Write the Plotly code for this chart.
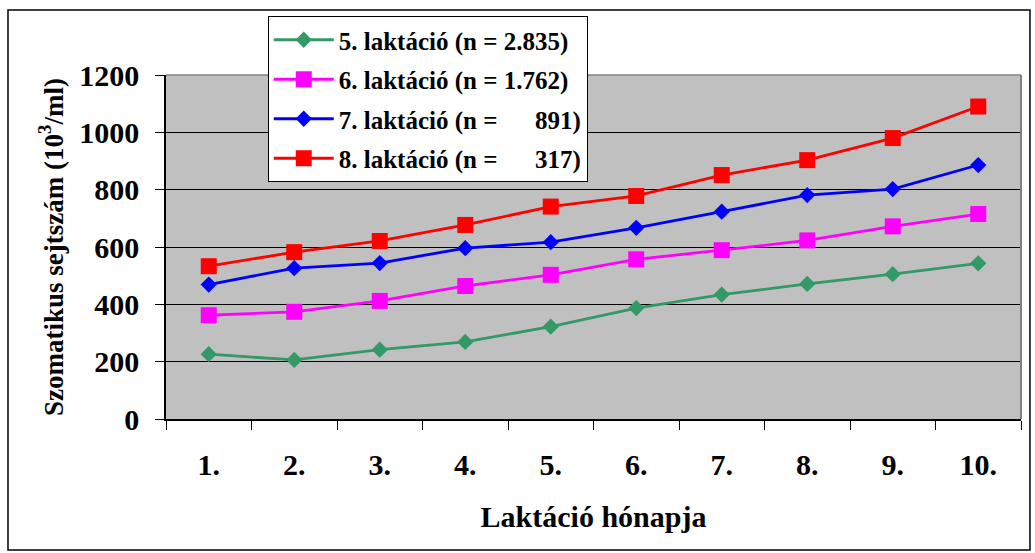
import plotly.graph_objects as go

# Months of lactation (category axis)
months = ["1.", "2.", "3.", "4.", "5.", "6.", "7.", "8.", "9.", "10."]

# Somatic cell count (10^3/ml) by lactation number
lact5 = [226, 206, 242, 269, 322, 387, 434, 471, 505, 543]
lact6 = [362, 374, 412, 464, 503, 557, 589, 623, 672, 715]
lact7 = [469, 526, 544, 596, 617, 667, 723, 781, 802, 886]
lact8 = [533, 582, 621, 677, 741, 778, 851, 903, 980, 1090]

series_names = [
    "5. laktáció (n = 2.835)",
    "6. laktáció (n = 1.762)",
    "7. laktáció (n = \u2007\u2008\u2007891)",
    "8. laktáció (n = \u2007\u2008\u2007317)",
]
series_values = [lact5, lact6, lact7, lact8]
series_colors = ["#339966", "#FF00FF", "#0000FF", "#FF0000"]
series_symbols = ["diamond", "square", "diamond", "square"]

FONT = "Times New Roman, Liberation Serif, serif"

fig = go.Figure()
for i, (name, vals, col, sym) in enumerate(
    zip(series_names, series_values, series_colors, series_symbols)
):
    fig.add_trace(
        go.Scatter(
            x=months,
            y=vals,
            name=name,
            legendgroup=f"g{i}",
            mode="lines+markers",
            line=dict(color=col, width=2.8),
            marker=dict(symbol=sym, size=12.5 if sym == "diamond" else 16, color=col,
                        line=dict(width=0)),
        )
    )

# Outer chart frame
fig.add_shape(type="rect", xref="paper", yref="paper",
              x0=-0.1848, x1=1.0105, y0=-0.381, y1=1.189,
              line=dict(color="black", width=1.5), fillcolor="rgba(0,0,0,0)",
              layer="below")
# Plot area top/right edge
fig.add_shape(type="line", xref="paper", yref="paper", x0=1, x1=1, y0=0, y1=1,
              line=dict(color="#808080", width=2))
fig.add_shape(type="line", xref="paper", yref="paper", x0=0, x1=1, y0=1, y1=1,
              line=dict(color="#808080", width=1.5))

fig.update_layout(
    width=1035,
    height=553,
    margin=dict(l=166, r=14, t=75, b=134),
    paper_bgcolor="white",
    plot_bgcolor="#C0C0C0",
    font=dict(family=FONT, color="black"),
    showlegend=True,
    legend=dict(
        x=0.119, y=1.1715, xanchor="left", yanchor="top",
        bgcolor="white", bordercolor="black", borderwidth=1,
        font=dict(family=FONT, size=25, color="black", weight="bold"),
        tracegroupgap=4,
        itemwidth=60,
    ),
    xaxis=dict(
        type="category",
        range=[-0.5, 9.5],
        tickson="boundaries",
        ticks="outside",
        ticklen=9,
        tickcolor="black",
        showline=True,
        linecolor="black",
        linewidth=1.5,
        showgrid=False,
        ticklabelstandoff=18,
        tickfont=dict(family=FONT, size=30, weight="bold"),
        title=dict(text="Laktáció hónapja",
                   font=dict(family=FONT, size=30, weight="bold"),
                   standoff=26),
    ),
    yaxis=dict(
        range=[0, 1200],
        tickvals=[0, 200, 400, 600, 800, 1000, 1200],
        ticks="outside",
        ticklen=9,
        tickcolor="black",
        showline=True,
        linecolor="black",
        linewidth=1.5,
        showgrid=True,
        gridcolor="black",
        gridwidth=1,
        zeroline=False,
        ticklabelstandoff=10,
        tickfont=dict(family=FONT, size=30, weight="bold"),
        title=dict(text="Szomatikus sejtszám (10<sup>3</sup>/ml)",
                   font=dict(family=FONT, size=27, weight="bold"),
                   standoff=8),
    ),
)

fig.write_html("out.html")
